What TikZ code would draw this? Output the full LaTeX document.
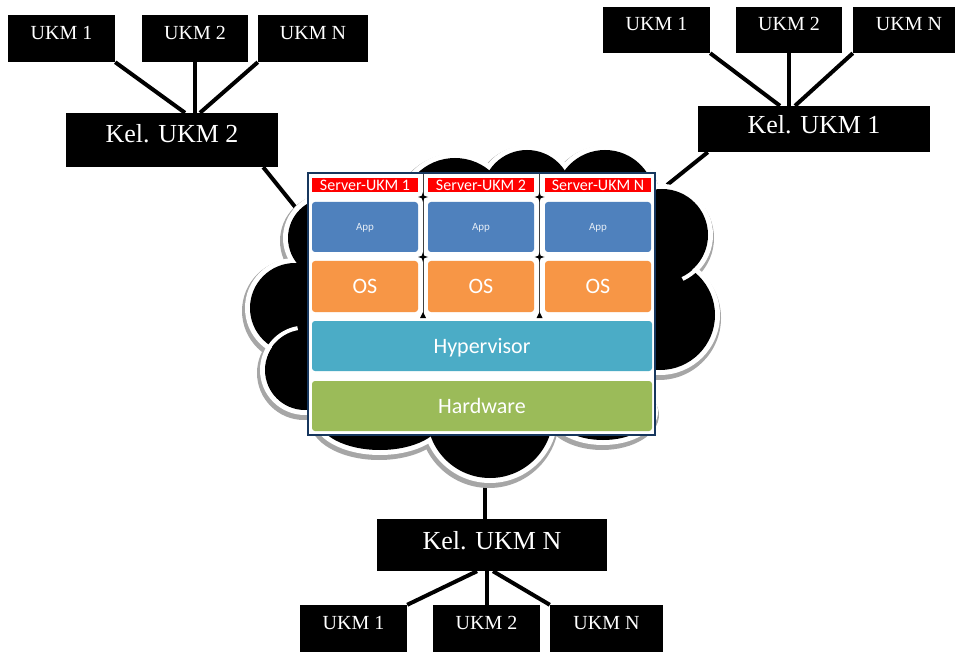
\documentclass[tikz,border=0pt]{standalone}
\usepackage{fontspec}
\setmainfont{Liberation Serif}
\newfontfamily\calibri{Carlito}
\definecolor{appblue}{HTML}{4F81BD}
\definecolor{osorange}{HTML}{F79646}
\definecolor{hypblue}{HTML}{4BACC6}
\definecolor{hwgreen}{HTML}{9BBB59}
\definecolor{navy}{HTML}{17375E}
\definecolor{shadowgray}{HTML}{A6A6A6}
\begin{document}
\begin{tikzpicture}[x=1pt,y=-1pt,
  ukm/.style={fill=black,text=white,inner sep=0pt,minimum height=47pt,font=\fontsize{20}{24}\selectfont,text height=13pt,text depth=11pt},
  kel/.style={fill=black,text=white,inner sep=0pt,font=\fontsize{26}{30}\selectfont,text height=17pt,text depth=8pt},
  conn/.style={line width=4pt},
  layer/.style={rounded corners=3pt,inner sep=0pt,text=white,font=\calibri\fontsize{22}{26}\selectfont,text height=14pt,text depth=0pt},
  srvlabel/.style={fill=red,inner sep=0pt,text=white,minimum width=106pt,minimum height=14pt,font=\calibri\fontsize{16}{17}\selectfont,text height=10.5pt,text depth=0pt},
  appbox/.style={layer,fill=appblue,minimum width=106pt,minimum height=50pt,font=\calibri\fontsize{11}{12}\selectfont,text height=7pt,text=appblue!15},
  osbox/.style={layer,fill=osorange,minimum width=106pt,minimum height=51pt},
  wide/.style={layer,minimum width=340pt,minimum height=50pt},
  innerarc/.style={white,line width=4pt}
]
\useasboundingbox (0,0) rectangle (955,652);

% ---- top-left cluster
\node[ukm,minimum width=107pt] (tl1) at (61.5,38.5) {UKM 1};
\node[ukm,minimum width=106pt] (tl2) at (195,38.5) {UKM 2};
\node[ukm,minimum width=110pt] (tl3) at (313,38.5) {UKM N};
\node[kel,minimum width=212pt,minimum height=54pt,text depth=12pt] (k2) at (172,140) {Kel. UKM 2};

% ---- top-right cluster
\node[ukm,minimum width=107pt,minimum height=46pt] (tr1) at (656.5,30) {UKM 1};
\node[ukm,minimum width=106pt,minimum height=46pt] (tr2) at (789,30) {UKM 2};
\node[ukm,minimum width=112pt,minimum height=46pt] (tr3) at (909,30) {UKM N};
\node[kel,minimum width=232pt,minimum height=46pt] (k1) at (814,129) {Kel. UKM 1};

% ---- bottom cluster
\node[kel,minimum width=230pt,minimum height=52pt] (kn) at (492,545) {Kel. UKM N};
\node[ukm,minimum width=107pt] (b1) at (353.5,628.5) {UKM 1};
\node[ukm,minimum width=107pt] (b2) at (486.5,628.5) {UKM 2};
\node[ukm,minimum width=113pt] (b3) at (606.5,628.5) {UKM N};

% cloud attachment points
\coordinate (c2) at (300,213);
\coordinate (c1) at (667,185);
\coordinate (cn) at (485,476);

% ---- connectors
\draw[conn] (tl1.south east) -- ([xshift=13pt]k2.north);
\draw[conn] (tl2.south) -- ([xshift=23pt]k2.north);
\draw[conn] (tl3.south west) -- ([xshift=28pt]k2.north);
\draw[conn] (tr1.south east) -- ([xshift=-34pt]k1.north);
\draw[conn] (tr2.south) -- ([xshift=-25pt]k1.north);
\draw[conn] (tr3.south west) -- ([xshift=-19pt]k1.north);
\draw[conn] ([xshift=-15pt]kn.south) -- (b1.north east);
\draw[conn] ([xshift=-5.5pt]kn.south) -- (b2.north);
\draw[conn] ([xshift=1pt]kn.south) -- (b3.north west);
\draw[conn] ([xshift=-15pt]k2.south east) -- (c2);
\draw[conn] ([xshift=10pt]k1.south west) -- (c1);
\draw[conn] (cn) -- ([xshift=-7pt]kn.north);

% ---- cloud
\def\cloudlist{455/212/54/54, 527/195/45/45, 605/200/50/50, 662/235/46/46, 660/315/55/55, 328/238/40/40, 295/308/45/45, 305/370/40/40, 380/418/62/32, 490/415/63/63, 603/412/50/28}
\foreach \cx/\cy/\rx/\ry in \cloudlist
  \fill[shadowgray] (\cx-1,\cy+3) ellipse [x radius={\rx pt+7pt}, y radius={\ry pt+7pt}];
\foreach \cx/\cy/\rx/\ry in \cloudlist
  \fill[white] (\cx,\cy) ellipse [x radius={\rx pt+5pt}, y radius={\ry pt+5pt}];
\foreach \cx/\cy/\rx/\ry in \cloudlist
  \fill[black] (\cx,\cy) ellipse [x radius={\rx pt}, y radius={\ry pt}];
\fill[black] (320,200) rectangle (645,425);
\draw[innerarc] (305,370) ++(100:42.5pt) arc[start angle=100,end angle=165,radius=42.5pt];
\draw[innerarc] (662,235) ++(-65:48.5pt) arc[start angle=-65,end angle=-22,radius=48.5pt];

% ---- server stack
\node[draw=navy,line width=2pt,fill=white,minimum width=347pt,minimum height=262pt,inner sep=0pt] (srv) at (481.5,304) {};

\foreach \x in {423,539.5}{
  \draw[black!75,line width=0.5pt] (\x,174) -- (\x,316);
}

\node[srvlabel] (s1) at (365,185) {Server-UKM 1};
\node[srvlabel] (s2) at (481,185) {Server-UKM 2};
\node[srvlabel] (s3) at (598,185) {Server-UKM N};

\node[appbox] (a1) at (365,227) {App};
\node[appbox] (a2) at (481,227) {App};
\node[appbox] (a3) at (598,227) {App};

\node[osbox] (o1) at (365,286.5) {OS};
\node[osbox] (o2) at (481,286.5) {OS};
\node[osbox] (o3) at (598,286.5) {OS};

\node[wide,fill=hypblue] (hyp) at (482,346) {Hypervisor};
\node[wide,fill=hwgreen] (hw) at (482,406) {Hardware};

\foreach \x in {423,539.5}{
  \foreach \y in {197,257}{
    \fill (\x,\y-5) -- (\x+1.2,\y-1.2) -- (\x+5,\y) -- (\x+1.2,\y+1.2) -- (\x,\y+5) -- (\x-1.2,\y+1.2) -- (\x-5,\y) -- (\x-1.2,\y-1.2) -- cycle;
  }
  \fill (\x-3,318) -- (\x+3,318) -- (\x,312) -- cycle;
}
\end{tikzpicture}
\end{document}
